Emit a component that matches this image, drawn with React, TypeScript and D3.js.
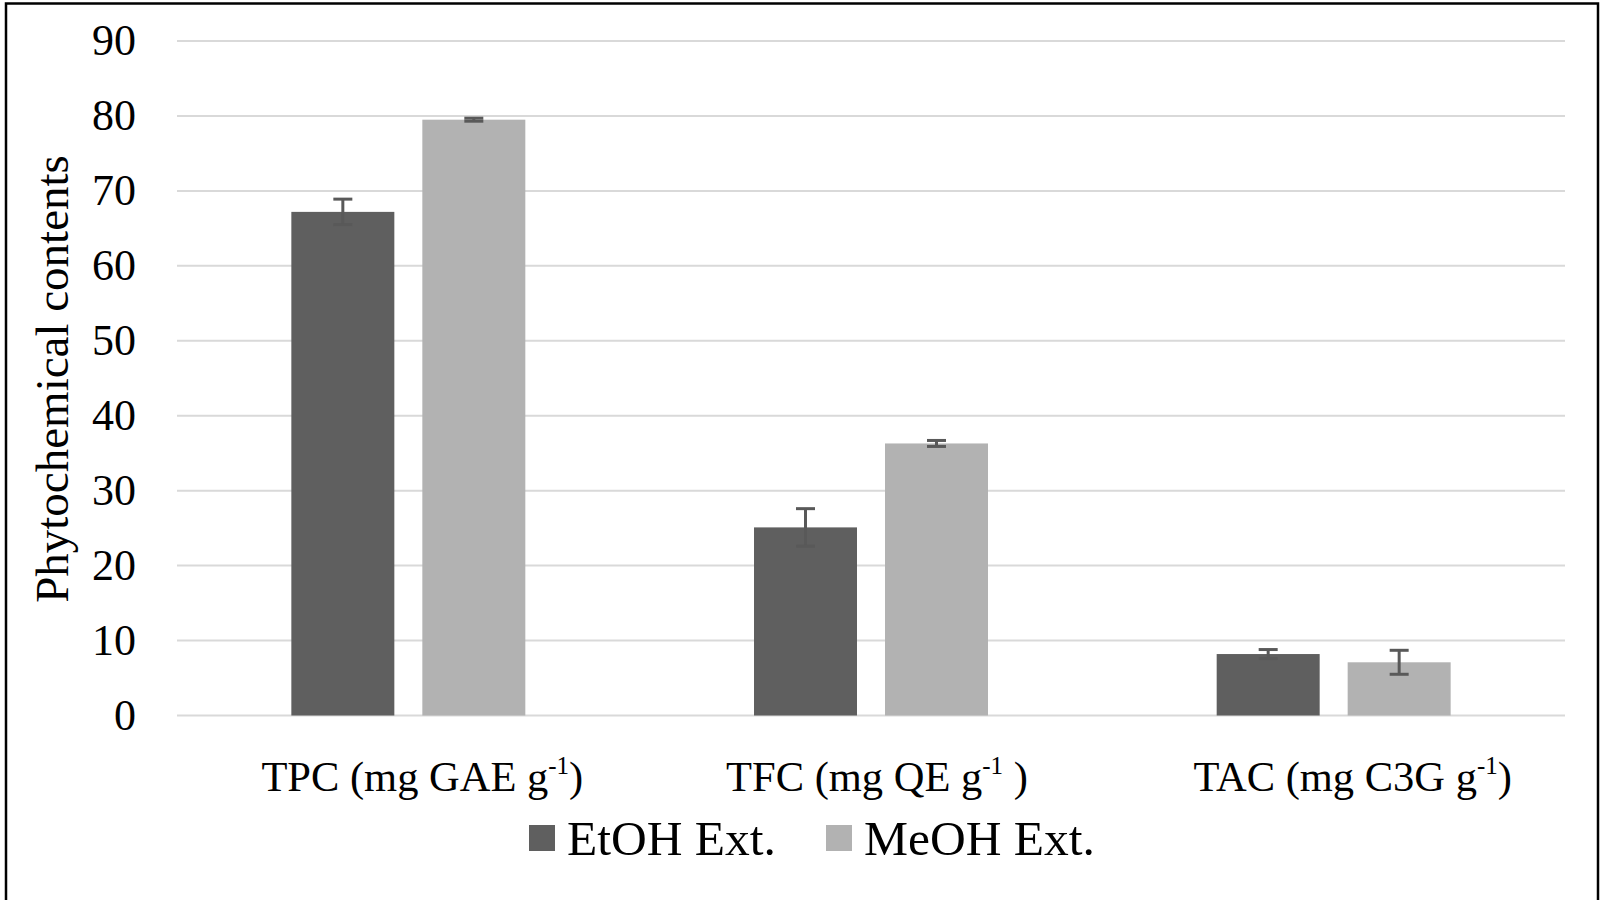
import React, { useEffect } from "react";
import * as d3 from "d3";

const categories = ["TPC", "TFC", "TAC"];
const categoryMain = ["TPC (mg GAE g", "TFC (mg QE g", "TAC (mg C3G g"];
const categoryTail = [")", " )", ")"];
const seriesNames = ["EtOH Ext.", "MeOH Ext."];
const etohValues = [67.2, 25.1, 8.2];
const etohErrors = [1.7, 2.5, 0.6];
const meohValues = [79.5, 36.3, 7.1];
const meohErrors = [0.2, 0.4, 1.6];
const yTicks = [0, 10, 20, 30, 40, 50, 60, 70, 80, 90];
const colors = ["#5f5f5f", "#b2b2b2"];

export default function App() {
  useEffect(() => {
    document.body.style.margin = "0";
    document.body.style.overflow = "hidden";
  }, []);

  const W = 1604;
  const H = 900;
  const plotLeft = 177;
  const plotRight = 1565;
  const y = d3.scaleLinear().domain([0, 90]).range([715.5, 41]);
  const x0 = d3.scaleBand<string>().domain(categories).range([plotLeft, plotRight]).paddingInner(0).paddingOuter(0);
  const bw = x0.bandwidth();
  const barW = bw * 0.2226;
  const gap = 28;
  const x1 = d3
    .scaleOrdinal<string, number>()
    .domain(seriesNames)
    .range([-(gap / 2) - barW, gap / 2]);

  const series = [
    { name: seriesNames[0], values: etohValues, errors: etohErrors, color: colors[0] },
    { name: seriesNames[1], values: meohValues, errors: meohErrors, color: colors[1] },
  ];

  const serif = "'Liberation Serif', 'Times New Roman', serif";
  const labelShift = [14, 6, 19];

  return (
    <svg width={W} height={H} style={{ position: "absolute", left: 0, top: 0, background: "#fff" }}>
      <rect x={0} y={0} width={W} height={H} fill="#fff" />
      {yTicks.map((t) => (
        <line key={"g" + t} x1={plotLeft} x2={plotRight} y1={y(t)} y2={y(t)} stroke="#d9d9d9" strokeWidth={2} />
      ))}
      {yTicks.map((t) => (
        <text key={"t" + t} x={136} y={y(t) + 14} textAnchor="end" fontFamily={serif} fontSize={44} fill="#000">
          {t}
        </text>
      ))}
      <text
        transform={`translate(68, 379) rotate(-90)`}
        textAnchor="middle"
        fontFamily={serif}
        fontSize={47}
        fill="#000"
      >
        Phytochemical contents
      </text>
      {series.map((s) =>
        categories.map((c, i) => {
          const bx = (x0(c) as number) + bw / 2 + (x1(s.name) as number);
          return (
            <rect
              key={s.name + c}
              x={bx}
              y={y(s.values[i])}
              width={barW}
              height={y(0) - y(s.values[i])}
              fill={s.color}
            />
          );
        })
      )}
      {series.map((s) =>
        categories.map((c, i) => {
          const cx = (x0(c) as number) + bw / 2 + (x1(s.name) as number) + barW / 2;
          const top = y(s.values[i] + s.errors[i]);
          const bot = y(s.values[i] - s.errors[i]);
          return (
            <g key={"e" + s.name + c} stroke="#595959" strokeWidth={3}>
              <line x1={cx} x2={cx} y1={top} y2={bot} />
              <line x1={cx - 9.5} x2={cx + 9.5} y1={top} y2={top} />
              <line x1={cx - 9.5} x2={cx + 9.5} y1={bot} y2={bot} />
            </g>
          );
        })
      )}
      {categories.map((c, i) => (
        <text
          key={"c" + c}
          x={(x0(c) as number) + bw / 2 + labelShift[i]}
          y={791}
          textAnchor="middle"
          fontFamily={serif}
          fontSize={42.5}
          fill="#000"
        >
          {categoryMain[i]}
          <tspan fontSize={25} dy={-17}>-1</tspan>
          <tspan dy={17}>{categoryTail[i]}</tspan>
        </text>
      ))}
      {series.map((s, i) => {
        const lx = [529, 826][i];
        return (
          <g key={"l" + s.name}>
            <rect x={lx} y={825} width={26} height={26} fill={s.color} />
            <text x={lx + 38} y={855} fontFamily={serif} fontSize={49.5} fill="#000">
              {s.name}
            </text>
          </g>
        );
      })}
      <rect x={6} y={3.5} width={1592} height={910} fill="none" stroke="#000" strokeWidth={2.5} />
    </svg>
  );
}
